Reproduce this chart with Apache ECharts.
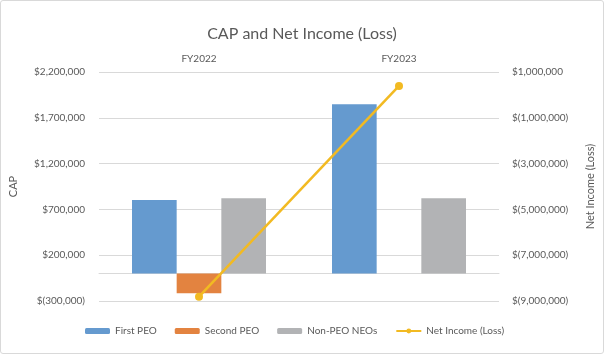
<!DOCTYPE html>
<html lang="en">
<head>
    <meta charset="utf-8">
    <script type="text/javascript" src="https://cdn.jsdelivr.net/npm/echarts@6/dist/echarts.min.js"></script>
</head>
<body style="margin: 0; background: #fff">
<div id="container" style="position:absolute;left:0;top:0;width:604px;height:354px"></div>
<div style="position:absolute;left:0;top:0;width:602px;height:352px;border:1px solid #D9D9D9;border-radius:3px;pointer-events:none"></div>

<script type="text/javascript">
    var years = ['FY2022', 'FY2023'];
    var firstPeo = [802000, 1848000];
    var secondPeo = [-216000, null];
    var nonPeo = [821000, 821000];
    var netIncome = [-8810000, 390000];

    function money(v) {
        var s = Math.abs(v).toLocaleString('en-US');
        return v < 0 ? '$(' + s + ')' : '$' + s;
    }

    var font = 'Lato';
    var grey = '#595959';
    var myChart = echarts.init(document.getElementById('container'));

    var option = {
        animation: false,
        textStyle: {fontFamily: font},
        title: {
            text: 'CAP and Net Income (Loss)',
            left: 'center',
            top: 21,
            textStyle: {fontFamily: font, fontSize: 16, fontWeight: 'normal', color: grey}
        },
        legend: {
            top: 321,
            left: 80,
            itemWidth: 25,
            itemHeight: 6,
            itemGap: 18,
            textStyle: {fontFamily: font, fontSize: 10, color: grey},
            data: ['First PEO', 'Second PEO', 'Non-PEO NEOs', 'Net Income (Loss)']
        },
        grid: {left: 96, right: 104, top: 72, bottom: 53},
        xAxis: [
            {
                type: 'category',
                data: years,
                position: 'top',
                axisLine: {show: false},
                axisTick: {show: false},
                axisLabel: {fontSize: 10, color: grey, margin: 8}
            },
            {
                type: 'category',
                data: years,
                position: 'bottom',
                axisLine: {onZero: true, onZeroAxisIndex: 0, lineStyle: {color: '#D9D9D9'}},
                axisTick: {show: false},
                axisLabel: {show: false}
            }
        ],
        yAxis: [
            {
                type: 'value',
                min: -300000,
                max: 2200000,
                interval: 500000,
                name: 'CAP',
                nameLocation: 'middle',
                nameGap: 80,
                nameTextStyle: {fontSize: 11, color: grey},
                axisLabel: {formatter: money, fontSize: 10, color: grey, margin: 14},
                splitLine: {lineStyle: {color: '#D9D9D9'}}
            },
            {
                type: 'value',
                min: -9000000,
                max: 1000000,
                interval: 2000000,
                name: 'Net Income (Loss)',
                nameLocation: 'middle',
                nameGap: 86,
                nameTextStyle: {fontSize: 11, color: grey},
                axisLabel: {formatter: money, fontSize: 10, color: grey, margin: 13},
                splitLine: {show: false}
            }
        ],
        series: [
            {
                name: 'First PEO',
                type: 'bar',
                data: firstPeo,
                barGap: '0%',
                barCategoryGap: '33%',
                itemStyle: {color: '#659ACF'}
            },
            {
                name: 'Second PEO',
                type: 'bar',
                data: secondPeo,
                itemStyle: {color: '#E38340'}
            },
            {
                name: 'Non-PEO NEOs',
                type: 'bar',
                data: nonPeo,
                itemStyle: {color: '#B2B3B5'}
            },
            {
                name: 'Net Income (Loss)',
                type: 'line',
                yAxisIndex: 1,
                data: netIncome,
                symbol: 'circle',
                symbolSize: 8,
                lineStyle: {width: 2.5, color: '#F2BA22'},
                itemStyle: {color: '#F2BA22'}
            }
        ]
    };

    myChart.setOption(option);
</script>
</body>
</html>
